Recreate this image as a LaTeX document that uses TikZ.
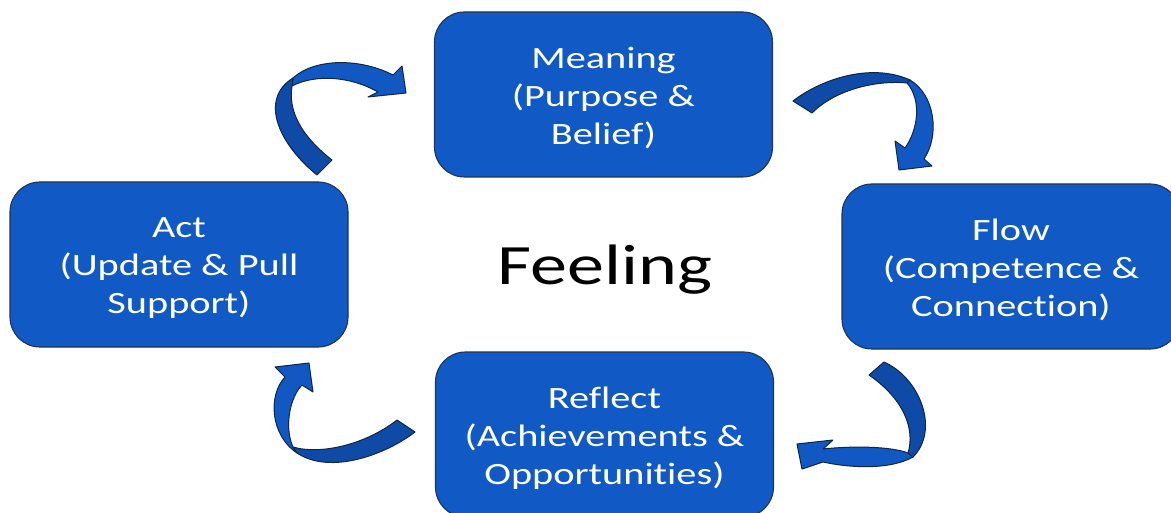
\documentclass[tikz,border=0pt]{standalone}
\usepackage{fontspec}
\setmainfont{Carlito}[FakeStretch=1.3, Ligatures={NoCommon}]
\definecolor{boxblue}{RGB}{17,89,196}
\definecolor{boxline}{RGB}{31,52,86}
\definecolor{cLight}{RGB}{18,88,194}
\definecolor{cDark}{RGB}{14,74,166}
\definecolor{cLine}{RGB}{14,38,72}
\tikzset{
  stepbox/.style={draw=boxline, line width=1.1pt, fill=boxblue, rounded corners=30pt,
    minimum width=338pt, minimum height=165pt, inner sep=0pt},
  boxtext/.style={text=white, align=center, inner sep=0pt, yshift=-3.5pt,
    font=\fontsize{31}{38}\selectfont},
  ribbonlight/.style={fill=cLight, draw=cLine, line width=1pt, line join=round},
  ribbondark/.style={fill=cDark, draw=cLine, line width=1pt, line join=round}
}
\begin{document}
\begin{tikzpicture}[x=1pt,y=-1pt]
\useasboundingbox (0,0) rectangle (1171,513);
\clip (0,0) rectangle (1171,513);
\fill[white] (0,0) rectangle (1171,513);

\node[stepbox, label={[boxtext]center:Meaning\\(Purpose \&\\Belief)}] (meaning) at (603.5,94.5) {};
\node[stepbox, label={[boxtext]center:Act\\(Update \& Pull\\Support)}] (act) at (179,264.5) {};
\node[stepbox, label={[boxtext]center:Flow\\(Competence \&\\Connection)}] (flow) at (1011,266.5) {};
\node[stepbox, label={[boxtext]center:Reflect\\(Achievements \&\\Opportunities)}] (reflect) at (604.5,434.5) {};
\node[anchor=base, font=\fontsize{57}{68}\selectfont, inner sep=0pt] (feeling) at (605,285) {Feeling};

% Arrow 1: Act -> Meaning
\path[ribbonlight] (293,78) .. controls (315,58) and (360,58) .. (393,75) -- (402,66) -- (406,93) -- (368,97) -- (378,92)
  .. controls (350,76) and (315,74) .. (292,86) -- cycle;
\path[ribbondark] (317,175) .. controls (280,145) and (258,100) .. (293,78) -- (292,86)
  .. controls (288,110) and (300,135) .. (332,160) -- cycle;

% Arrow 2: Meaning -> Flow
\path[ribbonlight] (910,80) .. controls (935,95) and (940,135) .. (924,159) -- (932,166) -- (899,170) -- (895,141) -- (905,148)
  .. controls (918,130) and (922,100) .. (907,83) -- cycle;
\path[ribbondark] (793,101) .. controls (820,80) and (870,62) .. (910,80) -- (907,83)
  .. controls (875,80) and (835,90) .. (812,113) -- cycle;

% Arrow 3: Flow -> Reflect
\path[ribbonlight] (913,457) .. controls (890,470) and (850,468) .. (823,462) -- (802,469) -- (797,444) -- (833,440) -- (823,449)
  .. controls (850,446) and (890,446) .. (908,453) -- cycle;
\path[ribbondark] (884,362) .. controls (920,378) and (940,430) .. (913,457) -- (908,453)
  .. controls (915,430) and (905,400) .. (869,375) -- cycle;

% Arrow 4: Reflect -> Act
\path[ribbonlight] (297,453) .. controls (270,435) and (268,395) .. (285,377) -- (275,367) -- (309,363) -- (313,392) -- (302,385)
  .. controls (288,400) and (285,430) .. (293,447) -- cycle;
\path[ribbondark] (415,432) .. controls (385,455) and (330,475) .. (297,453) -- (293,447)
  .. controls (320,455) and (365,445) .. (397,420) -- cycle;
\end{tikzpicture}
\end{document}
